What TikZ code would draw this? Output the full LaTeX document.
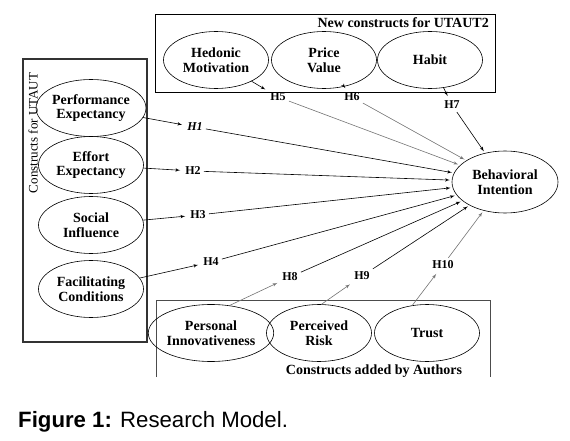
\documentclass[tikz,border=0pt]{standalone}
\usepackage{fontspec}
\setmainfont{Liberation Serif}
\newfontfamily\captionfont{Liberation Sans}
\usetikzlibrary{arrows,shapes.geometric}
\tikzstyle{construct}=[draw, ellipse, line width=0.6pt, minimum width=105pt,
  minimum height=57pt, inner sep=0pt, align=center,
  font=\fontsize{14}{14.5}\selectfont\bfseries]
\tikzstyle{hyp}=[inner sep=3pt, font=\fontsize{12}{12}\selectfont\bfseries]
\tikzstyle{line}=[draw, line width=0.6pt, -latex', shorten >=2pt]
\tikzstyle{greyline}=[line, color=black!55]
\tikzstyle{group}=[draw, line width=0.9pt]

\begin{document}
\begin{tikzpicture}[x=1pt,y=-1pt]
  \useasboundingbox (0,0) rectangle (570,441);

  % groups
  \draw [group] (155,14) rectangle (495,92);
  \path (489,17) node (newtitle) [anchor=north east, inner sep=0pt,
    font=\fontsize{14}{14}\selectfont\bfseries] {New constructs for UTAUT2};
  \draw [group, line width=1.2pt, color=black!80] (23,59) rectangle (147,342);
  \path (33,133) node (utauttitle) [rotate=90, inner sep=0pt,
    font=\fontsize{13}{13}\selectfont] {Constructs for UTAUT};
  \draw [group, line width=0.6pt, color=black!70] (156,377) -- (156,300) -- (490,300) -- (490,377);
  \path (374,371) node (authtitle) [inner sep=0pt,
    font=\fontsize{14}{14}\selectfont\bfseries] {Constructs added by Authors};

  % constructs
  \path (91,108) node (pe) [construct] {Performance\\Expectancy};
  \path (91,165) node (ee) [construct] {Effort\\Expectancy};
  \path (91,225) node (si) [construct] {Social\\Influence};
  \path (91,289) node (fc) [construct] {Facilitating\\Conditions};
  \path (216,60) node (hm) [construct] {Hedonic\\Motivation};
  \path (324,60) node (pv) [construct] {Price\\Value};
  \path (430,60) node (hb) [construct] {Habit};
  \path (211,333) node (pi) [construct] {Personal\\Innovativeness};
  \path (319,333) node (pr) [construct] {Perceived\\Risk};
  \path (427,333) node (tr) [construct] {Trust};
  \path (505,182) node (bi) [construct, minimum width=106pt, minimum height=62pt] {Behavioral\\Intention};

  % hypotheses
  \path (195,127) node (h1) [hyp, font=\fontsize{12}{12}\selectfont\bfseries\itshape] {H1};
  \path (193,171) node (h2) [hyp] {H2};
  \path (198,215) node (h3) [hyp] {H3};
  \path (211,262) node (h4) [hyp] {H4};
  \path (278,97) node (h5) [hyp] {H5};
  \path (352,97) node (h6) [hyp] {H6};
  \path (452,105) node (h7) [hyp] {H7};
  \path (290,277) node (h8) [hyp] {H8};
  \path (362,276) node (h9) [hyp] {H9};
  \path (443,265) node (h10) [hyp] {H10};

  \path [line] (pe) -- (h1);
  \path [line] (ee) -- (h2);
  \path [line] (si) -- (h3);
  \path [line] (fc) -- (h4);
  \path [line] (hm) -- (h5);
  \path [line] (pv) -- (h6);
  \path [line] (hb) -- (h7);
  \path [greyline] (pi.56) -- (h8);
  \path [greyline] (pr.85) -- (h9);
  \path [greyline] (tr.118) -- (h10);

  \path [line] (h1) -- (bi);
  \path [line] (h2) -- (bi);
  \path [line] (h3) -- (bi);
  \path [line] (h4) -- (bi);
  \path [greyline] (h5) -- (bi);
  \path [greyline] (h6) -- (bi);
  \path [line] (h7) -- (bi);
  \path [line] (h8) -- (bi);
  \path [line] (h9) -- (bi);
  \path [greyline] (h10) -- (bi);

  \path (18,427) node (caption) [anchor=base west, inner sep=0pt,
    font=\fontsize{22.2}{22.2}\captionfont] {\textbf{Figure 1:} Research Model.};
\end{tikzpicture}
\end{document}
